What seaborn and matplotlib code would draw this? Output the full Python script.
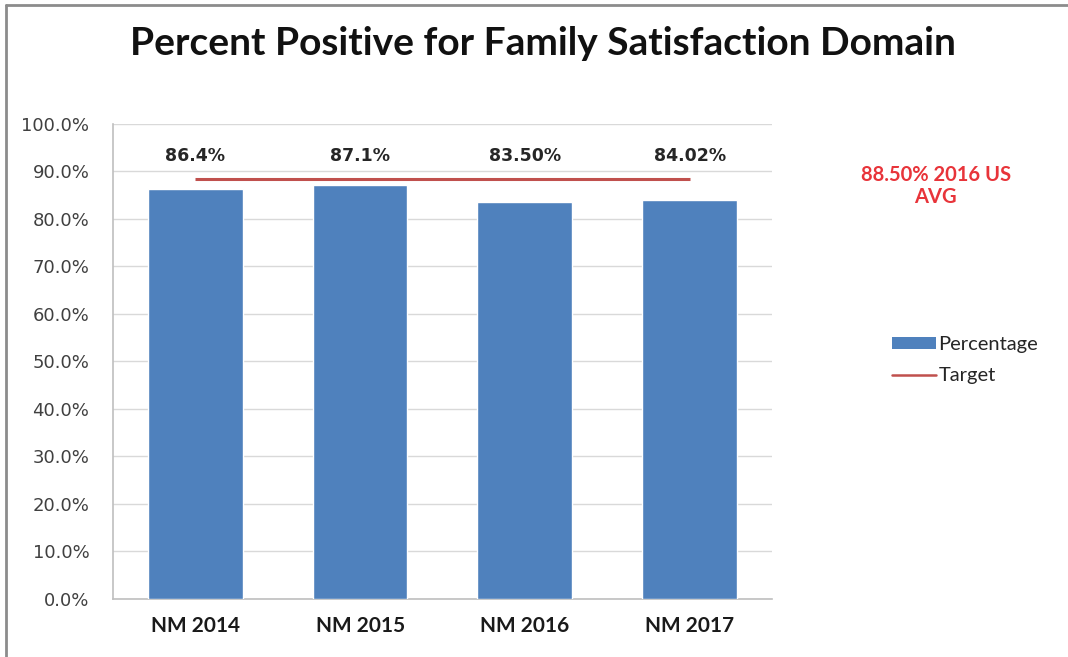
import matplotlib
matplotlib.use("Agg")
import matplotlib.pyplot as plt
import seaborn as sns
import pandas as pd
from matplotlib.patches import Patch
from matplotlib.lines import Line2D

categories = ["NM 2014", "NM 2015", "NM 2016", "NM 2017"]
percentages = [86.4, 87.1, 83.50, 84.02]
value_labels = ["86.4%", "87.1%", "83.50%", "84.02%"]
target_value = 88.5
target_label = "88.50% 2016 US\nAVG"
yticks = [0, 10, 20, 30, 40, 50, 60, 70, 80, 90, 100]

df = pd.DataFrame({"Category": categories, "Percentage": percentages})

sns.set_theme(style="white")
plt.rcParams["font.family"] = ["DejaVu Sans"]

bar_color = "#4f81bd"
target_color = "#c0504d"

fig = plt.figure(figsize=(10.68, 6.57), dpi=100)
ax = fig.add_axes([0.1058, 0.0883, 0.617, 0.723])

sns.barplot(data=df, x="Category", y="Percentage", color=bar_color,
            width=0.575, saturation=1, ax=ax, zorder=3)

# target line spanning first to last category
ax.hlines(target_value, 0, len(categories) - 1, color=target_color, lw=2.2, zorder=4)

ax.set_xlim(-0.5, len(categories) - 0.5)
ax.set_ylim(0, 100)
ax.set_yticks(yticks)
ax.set_yticklabels([f"{v:.1f}%" for v in yticks], fontsize=13, color="#404040")
ax.tick_params(axis="y", length=0, pad=17)
ax.tick_params(axis="x", length=0, pad=12)
for lbl in ax.get_xticklabels():
    lbl.set_fontfamily("Lato")
    lbl.set_fontweight("bold")
    lbl.set_fontsize(15)
    lbl.set_color("#1a1a1a")
ax.set_xlabel("")
ax.set_ylabel("")
ax.yaxis.grid(True, color="#d9d9d9", lw=1, zorder=0)
ax.set_axisbelow(True)
for side in ["top", "right"]:
    ax.spines[side].set_visible(False)
for side in ["left", "bottom"]:
    ax.spines[side].set_color("#bfbfbf")
    ax.spines[side].set_linewidth(1.2)

# value labels above the bars
for i, txt in enumerate(value_labels):
    ax.text(i, 93.3, txt, ha="center", va="center", fontsize=12.5,
            fontweight="bold", color="#262626")

fig.text(0.508, 0.934, "Percent Positive for Family Satisfaction Domain",
         ha="center", va="center", fontsize=28, fontweight="bold",
         family="Lato", color="#111111")

fig.text(0.876, 0.717, target_label, ha="center", va="center", fontsize=14.5,
         fontweight="bold", family="Lato", color="#e8343a", linespacing=1.1)

handles = [Patch(facecolor=bar_color, edgecolor="none"),
           Line2D([0], [0], color=target_color, lw=1.8)]
fig.legend(handles, ["Percentage", "Target"], loc="center left",
           bbox_to_anchor=(0.818, 0.452), frameon=False,
           prop={"family": "Lato", "size": 14.5}, handlelength=2.2,
           handleheight=0.5, handletextpad=0.12, labelspacing=0.7)

# top and left edges of the chart frame
fig.add_artist(Line2D([0.006, 1.0], [0.992, 0.992], transform=fig.transFigure,
                      color="#8c8c8c", lw=2))
fig.add_artist(Line2D([0.006, 0.006], [0.0, 0.992], transform=fig.transFigure,
                      color="#8c8c8c", lw=2))

fig.savefig("out.png", dpi=100)
